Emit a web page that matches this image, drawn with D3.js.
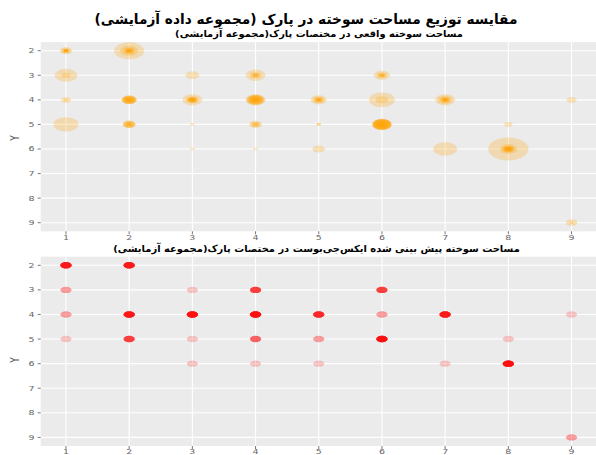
<!DOCTYPE html>
<html>
<head>
<meta charset="utf-8">
<script src="https://cdn.jsdelivr.net/npm/d3@7"></script>
<style>
  body { margin: 0; background: #ffffff; }
  svg { display: block; }
  text { font-family: "DejaVu Sans", "Liberation Sans", sans-serif; }
</style>
</head>
<body>
<svg id="chart" width="596" height="455"></svg>
<script>
// ---- data -------------------------------------------------------------
const mainTitle = "مقایسه توزیع مساحت سوخته در پارک (مجموعه داده آزمایشی)";
const actualTitle = "مساحت سوخته واقعی در مختصات پارک(مجموعه آزمایشی)";
const predictedTitle = "مساحت سوخته پیش بینی شده ایکس‌جی‌بوست در مختصات پارک(مجموعه آزمایشی)";
const yAxisTitle = "Y";

const xBreaks = [1, 2, 3, 4, 5, 6, 7, 8, 9];
const yBreaks = [2, 3, 4, 5, 6, 7, 8, 9];

// Park grid cells that hold test-set fires
const cellX = [1, 2, 1, 3, 4, 6, 1, 2, 3, 4, 5, 6, 7, 9, 1, 2, 3, 4, 5, 6, 8, 3, 4, 5, 7, 8, 9];
const cellY = [2, 2, 3, 3, 3, 3, 4, 4, 4, 4, 4, 4, 4, 4, 5, 5, 5, 5, 5, 5, 5, 6, 6, 6, 6, 6, 9];

// Burned area (ha) of every test fire in each cell above
const burnedAreas = [
  [10, 3, 1, 0, 0, 0, 0, 0, 0, 0],
  [102, 28, 8, 3, 1, 0, 0, 0, 0, 0],
  [51, 3],
  [13],
  [37, 7, 2, 0, 0, 0],
  [21, 5, 1, 0, 0, 0],
  [5, 0],
  [19, 17, 14, 11, 8, 5, 2, 0, 0, 0],
  [37, 10, 6, 4, 2, 1, 0, 0, 0, 0, 0, 0],
  [37, 30, 24, 18, 12, 8, 4, 2, 0, 0, 0, 0],
  [21, 8, 3, 1, 0, 0, 0, 0],
  [72, 10],
  [37, 15, 5, 2, 1, 0, 0, 0, 0, 0],
  [5],
  [66],
  [12, 10, 6, 3, 0, 0],
  [0],
  [11, 4, 1, 0],
  [0, 0],
  [37, 35, 33, 30, 28, 22, 15, 8, 3, 1, 0, 0],
  [2],
  [0],
  [0],
  [10],
  [59],
  [200, 26, 10, 6, 4, 2, 1, 0, 0, 0, 0, 0],
  [8, 0]
];

// one record per fire
const fires = [];
cellX.forEach((cx, i) => {
  burnedAreas[i].forEach(a => fires.push({ X: cx, Y: cellY[i], area: a }));
});

// ---- layout -------------------------------------------------------------
const svg = d3.select("#chart");
const W = 596, H = 455;
const stretch = 1.75;               // horizontal stretch of the exported figure

const x = d3.scaleLinear().domain([0.6, 9.4]).range([40.7, 596.8]);
const panels = [
  { title: actualTitle, titleY: 36.5, top: 42.1, bottom: 231.3, yLabelY: 138, xLabelY: 239.5, kind: "actual" },
  { title: predictedTitle, titleY: 252, top: 256.7, bottom: 446, yLabelY: 360, xLabelY: 454, kind: "pred" }
];

const size = d3.scaleSqrt().domain([0, d3.max(fires, d => d.area)]).range([1.3, 11.5]);

function fitText(sel, cx, baseline, width) {
  const w = sel.node().getComputedTextLength();
  sel.attr("text-anchor", "middle")
     .attr("transform", `translate(${cx},${baseline}) scale(${width / w},1)`);
}

// main title
const mt = svg.append("text")
  .attr("font-size", 14).attr("font-weight", "bold").attr("fill", "#000")
  .attr("direction", "rtl").text(mainTitle);
fitText(mt, 306, 24, 423);

panels.forEach((p, pi) => {
  const y = d3.scaleLinear().domain([1.65, 9.35]).range([p.top, p.bottom]);
  const g = svg.append("g");

  g.append("rect")
    .attr("x", x.range()[0]).attr("y", p.top)
    .attr("width", x.range()[1] - x.range()[0]).attr("height", p.bottom - p.top)
    .attr("fill", "#EBEBEB");

  g.append("clipPath").attr("id", "clip" + pi)
    .append("rect")
    .attr("x", x.range()[0]).attr("y", p.top)
    .attr("width", x.range()[1] - x.range()[0]).attr("height", p.bottom - p.top);

  // grid
  g.selectAll(".hg").data(yBreaks).enter().append("line")
    .attr("x1", x.range()[0]).attr("x2", x.range()[1])
    .attr("y1", d => y(d)).attr("y2", d => y(d))
    .attr("stroke", "#ffffff").attr("stroke-width", 1.1);
  g.selectAll(".vg").data(xBreaks).enter().append("line")
    .attr("y1", p.top).attr("y2", p.bottom)
    .attr("x1", d => x(d)).attr("x2", d => x(d))
    .attr("stroke", "#ffffff").attr("stroke-width", 1.1);

  // marks
  const marks = g.append("g").attr("clip-path", `url(#clip${pi})`);
  if (p.kind === "actual") {
    marks.selectAll("ellipse").data(fires).enter().append("ellipse")
      .attr("cx", d => x(d.X)).attr("cy", d => y(d.Y))
      .attr("ry", d => size(d.area)).attr("rx", d => size(d.area) * stretch)
      .attr("fill", "#FFA500").attr("fill-opacity", 0.25);
  } else {
    marks.selectAll("ellipse").data(fires).enter().append("ellipse")
      .attr("cx", d => x(d.X)).attr("cy", d => y(d.Y))
      .attr("ry", 3.2).attr("rx", 3.2 * stretch)
      .attr("fill", "#FF0000").attr("fill-opacity", 0.2);
  }

  // y axis ticks and labels
  g.selectAll(".yt").data(yBreaks).enter().append("line")
    .attr("x1", x.range()[0] - 3).attr("x2", x.range()[0])
    .attr("y1", d => y(d)).attr("y2", d => y(d))
    .attr("stroke", "#555").attr("stroke-width", 0.8);
  g.selectAll(".yl").data(yBreaks).enter().append("text")
    .attr("text-anchor", "end").attr("font-size", 7).attr("fill", "#666")
    .attr("transform", d => `translate(34.5,${y(d) + 2.5}) scale(1.35,1)`)
    .text(d => d);

  // x axis ticks and labels
  g.selectAll(".xt").data(xBreaks).enter().append("line")
    .attr("x1", d => x(d)).attr("x2", d => x(d))
    .attr("y1", p.bottom).attr("y2", p.bottom + 3)
    .attr("stroke", "#555").attr("stroke-width", 0.8);
  g.selectAll(".xl").data(xBreaks).enter().append("text")
    .attr("text-anchor", "middle").attr("font-size", 7).attr("fill", "#666")
    .attr("transform", d => `translate(${x(d)},${p.xLabelY}) scale(1.35,1)`)
    .text(d => d);

  // y axis title
  g.append("text")
    .attr("text-anchor", "middle").attr("font-size", 9).attr("fill", "#555")
    .attr("transform", `translate(19,${p.yLabelY}) rotate(-90) scale(1,1.4)`)
    .text(yAxisTitle);

  // panel title
  const t = g.append("text")
    .attr("font-size", 9.5).attr("font-weight", "bold").attr("fill", "#000")
    .attr("direction", "rtl").text(p.title);
  fitText(t, pi === 0 ? 319 : 316.5, p.titleY, pi === 0 ? 288 : 407);
});
</script>
</body>
</html>
